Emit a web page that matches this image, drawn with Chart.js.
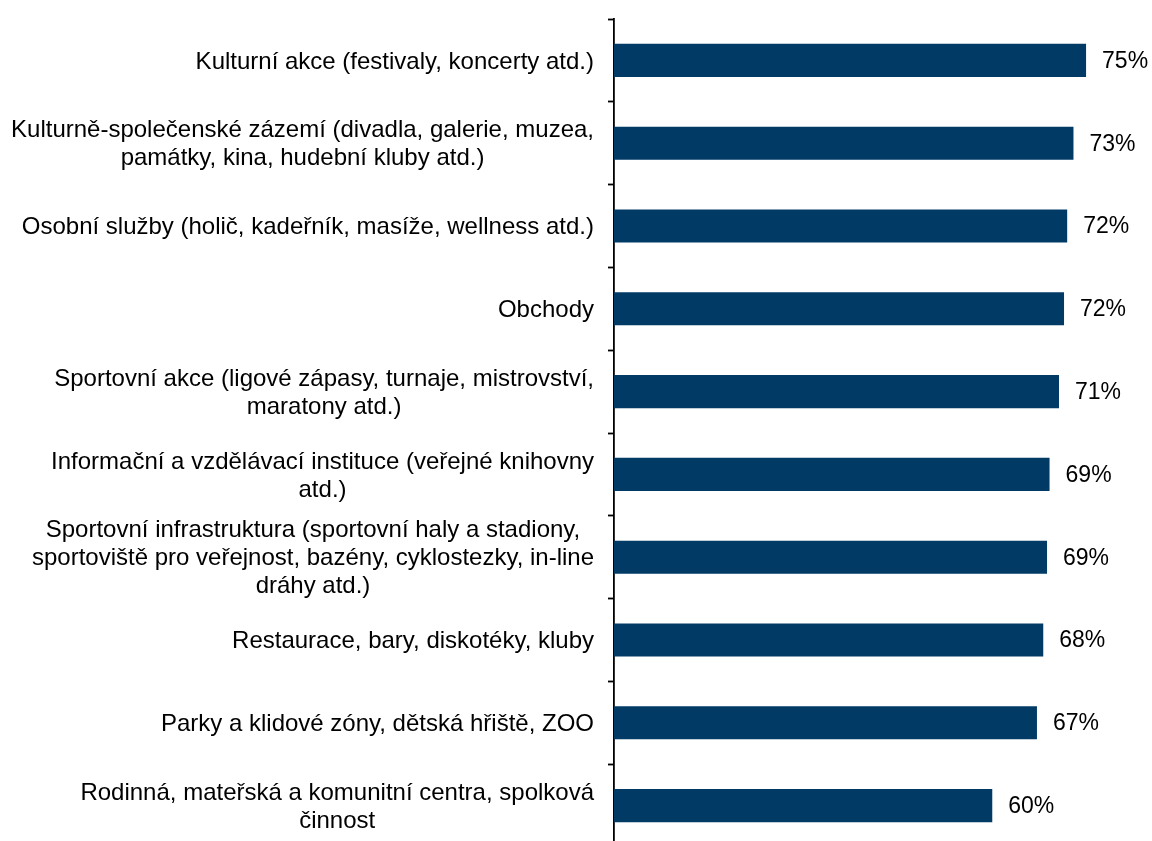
<!DOCTYPE html>
<html>
<head>
<meta charset="utf-8">
<script src="https://cdn.jsdelivr.net/npm/chart.js@4/dist/chart.umd.min.js"></script>
<style>
  html, body { margin: 0; padding: 0; background: #fff; overflow: hidden; }
  #wrap { width: 1152px; height: 850px; position: relative; }
</style>
</head>
<body>
<div id="wrap"><canvas id="chart"></canvas></div>
<script>
// category labels, already wrapped the way the original shows them
const categories = [
    ['Kulturní akce (festivaly, koncerty atd.)'],
    ['Kulturně-společenské zázemí (divadla, galerie, muzea,', 'památky, kina, hudební kluby atd.)'],
    ['Osobní služby (holič, kadeřník, masíže, wellness atd.)'],
    ['Obchody'],
    ['Sportovní akce (ligové zápasy, turnaje, mistrovství,', 'maratony atd.)'],
    ['Informační a vzdělávací instituce (veřejné knihovny', 'atd.)'],
    ['Sportovní infrastruktura (sportovní haly a stadiony,', 'sportoviště pro veřejnost, bazény, cyklostezky, in-line', 'dráhy atd.)'],
    ['Restaurace, bary, diskotéky, kluby'],
    ['Parky a klidové zóny, dětská hřiště, ZOO'],
    ['Rodinná, mateřská a komunitní centra, spolková', 'činnost']
];

// bar lengths in percent
const values = [75.0, 73.0, 72.0, 71.5, 70.7, 69.2, 68.8, 68.2, 67.2, 60.1];

const barColor = '#023a66';
const fontFamily = '"Liberation Sans", Arial, sans-serif';

// draws the category labels: each block right aligned to the axis, lines centred inside it
const categoryLabels = {
    id: 'categoryLabels',
    afterDraw(chart) {
        const c = chart.ctx;
        const yScale = chart.scales.y;
        const rightEdge = yScale.right - 20;
        const lineHeight = 28;
        c.save();
        c.font = '24px ' + fontFamily;
        c.fillStyle = '#000';
        c.textAlign = 'center';
        c.textBaseline = 'middle';
        categories.forEach((lines, i) => {
            const y = yScale.getPixelForTick(i) + 1.5;
            let widest = 0;
            lines.forEach(l => { widest = Math.max(widest, c.measureText(l).width); });
            const cx = rightEdge - widest / 2;
            const top = y - (lines.length - 1) * lineHeight / 2;
            lines.forEach((l, j) => c.fillText(l, cx, top + j * lineHeight));
        });
        c.restore();
    }
};

// percent labels at the end of each bar
const valueLabels = {
    id: 'valueLabels',
    afterDatasetsDraw(chart) {
        const c = chart.ctx;
        const meta = chart.getDatasetMeta(0);
        c.save();
        c.font = '23px ' + fontFamily;
        c.fillStyle = '#000';
        c.textAlign = 'left';
        c.textBaseline = 'middle';
        meta.data.forEach((bar, i) => {
            c.fillText(Math.round(values[i]) + '%', bar.x + 16, bar.y + 1);
        });
        c.restore();
    }
};

new Chart(document.getElementById('chart'), {
    type: 'bar',
    data: {
        labels: categories,
        datasets: [{
            data: values,
            backgroundColor: barColor,
            borderWidth: 0,
            categoryPercentage: 1.0,
            barPercentage: 0.4
        }]
    },
    options: {
        indexAxis: 'y',
        responsive: true,
        maintainAspectRatio: false,
        animation: false,
        layout: {
            padding: { left: 0, right: 3, top: 19, bottom: 3 }
        },
        plugins: {
            legend: { display: false },
            tooltip: { enabled: false }
        },
        scales: {
            x: {
                display: false,
                min: 0,
                max: 85
            },
            y: {
                position: 'left',
                afterFit(scale) { scale.width = 614; },
                border: { display: true, color: '#000', width: 1.8 },
                grid: {
                    offset: true,
                    drawOnChartArea: false,
                    drawTicks: true,
                    tickLength: 6,
                    tickWidth: 1.8,
                    tickColor: '#000'
                },
                ticks: { display: false }
            }
        }
    },
    plugins: [categoryLabels, valueLabels]
});
</script>
</body>
</html>
